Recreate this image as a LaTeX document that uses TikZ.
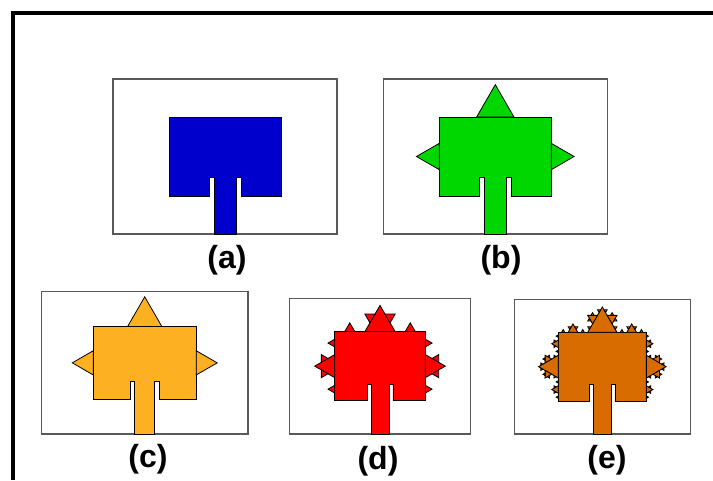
\documentclass[tikz,border=0pt]{standalone}
\usepackage{fontspec}
\setmainfont{Liberation Sans}

\definecolor{leafblue}{RGB}{0,0,205}
\definecolor{leafgreen}{RGB}{0,215,0}
\definecolor{leaforange}{RGB}{252,176,34}
\definecolor{leafred}{RGB}{255,0,0}
\definecolor{leafbrown}{RGB}{216,108,0}
\colorlet{patchcol}{leafblue}

\tikzset{
  boxline/.style={draw=black!65, line width=1.5pt},
  patchline/.style={fill=patchcol, draw=black, line width=0.8pt},
  lbl/.style={font=\bfseries\fontsize{32}{36}\selectfont, inner sep=0pt},
}

% one Koch bump on the middle third of (#2,#3)--(#4,#5), then recurse #1 times
\newcommand\kochside[5]{%
  \ifnum#1>0\relax
  \begingroup
    \pgfmathsetmacro\kax{#2+(#4-#2)/3}%
    \pgfmathsetmacro\kay{#3+(#5-#3)/3}%
    \pgfmathsetmacro\kbx{#2+2*(#4-#2)/3}%
    \pgfmathsetmacro\kby{#3+2*(#5-#3)/3}%
    \pgfmathsetmacro\kcx{(#2+#4)/2+0.288675*(#5-#3)}%
    \pgfmathsetmacro\kcy{(#3+#5)/2-0.288675*(#4-#2)}%
    \draw[patchline] (\kax,\kay) -- (\kcx,\kcy) -- (\kbx,\kby) -- cycle;
    \pgfmathtruncatemacro\knext{#1-1}%
    \edef\kochrest{%
      \noexpand\kochside{\knext}{#2}{#3}{\kax}{\kay}%
      \noexpand\kochside{\knext}{\kax}{\kay}{\kcx}{\kcy}%
      \noexpand\kochside{\knext}{\kcx}{\kcy}{\kbx}{\kby}%
      \noexpand\kochside{\knext}{\kbx}{\kby}{#4}{#5}}%
    \kochrest
  \endgroup
  \fi}

% box left, box top, xscale, yscale, colour, order
\newcommand\antenna[6]{%
  \colorlet{patchcol}{#5}%
  \begin{scope}[shift={(#1,#2)}, xscale=#3, yscale=#4]
    \draw[boxline] (0,0) rectangle (224,155);
    \draw[patchline] (56,38) -- (168,38) -- (168,117) -- (128,117) -- (128,98)
      -- (123,98) -- (123,155) -- (101,155) -- (101,98) -- (96,98) -- (96,117)
      -- (56,117) -- cycle;
  \end{scope}
  \pgfmathsetmacro\pl{#1+56*#3}\pgfmathsetmacro\pr{#1+168*#3}%
  \pgfmathsetmacro\pt{#2+38*#4}\pgfmathsetmacro\pb{#2+117*#4}%
  \kochside{#6}{\pl}{\pb}{\pl}{\pt}%
  \kochside{#6}{\pl}{\pt}{\pr}{\pt}%
  \kochside{#6}{\pr}{\pt}{\pr}{\pb}%
}

\begin{document}
\begin{tikzpicture}[x=1pt, y=-1pt]
\useasboundingbox (0,0) rectangle (713,480);
\draw[line width=4pt] (13,480) -- (13,13) -- (713,13);

\antenna{113}{79}{1}{1}{leafblue}{0}
\antenna{383.3}{79}{1}{1}{leafgreen}{1}
\antenna{41.7}{291.7}{0.92}{0.918}{leaforange}{1}
\antenna{289.3}{298.3}{0.81}{0.875}{leafred}{2}
\antenna{514.3}{299.3}{0.786}{0.869}{leafbrown}{3}

\node[lbl] (la) at (227,260) {(a)};
\node[lbl] (lb) at (501,260) {(b)};
\node[lbl] (lc) at (148,459) {(c)};
\node[lbl] (ld) at (378,461) {(d)};
\node[lbl] (le) at (607,460) {(e)};
\end{tikzpicture}
\end{document}
